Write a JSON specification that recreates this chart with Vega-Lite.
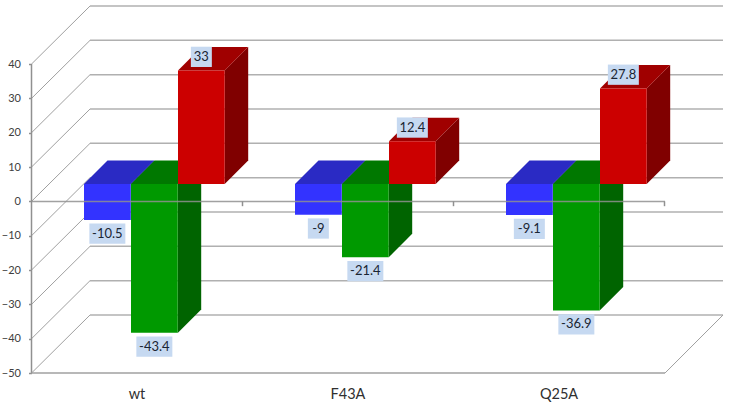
{
"$schema":"https://vega.github.io/schema/vega-lite/v6.json",
"width":729,"height":406,"padding":0,"autosize":{"type":"none"},"background":"white",
"config":{"view":{"stroke":null},"font":"Lato"},
"datasets":{
"bars":[
{"group":"wt","series":"S1","value":-10.5},{"group":"wt","series":"S2","value":-43.4},{"group":"wt","series":"S3","value":33},
{"group":"F43A","series":"S1","value":-9},{"group":"F43A","series":"S2","value":-21.4},{"group":"F43A","series":"S3","value":12.4},
{"group":"Q25A","series":"S1","value":-9.1},{"group":"Q25A","series":"S2","value":-36.9},{"group":"Q25A","series":"S3","value":27.8}],
"ticks":[{"v":-50},{"v":-40},{"v":-30},{"v":-20},{"v":-10},{"v":0},{"v":10},{"v":20},{"v":30},{"v":40}],
"groups":[{"group":"wt","i":0},{"group":"F43A","i":1},{"group":"Q25A","i":2}]
},
"encoding":{
"x":{"field":"px","type":"quantitative","scale":{"domain":[0,729],"nice":false,"zero":false},"axis":null},
"y":{"field":"vy","type":"quantitative","scale":{"domain":[-59.6,58.66],"nice":false,"zero":false},
"axis":{"title":null,"values":[-50,-40,-30,-20,-10,0,10,20,30,40],"offset":-31.5,"domain":false,"grid":false,"tickSize":3,"tickColor":"#909090","tickWidth":1.5,"labelColor":"#404040","labelFontSize":11,"labelFont":"Lato","labelPadding":8}}
},
"resolve":{"scale":{"color":"independent"}},
"layer":[
{"data":{"name":"ticks"},"transform":[{"calculate":"90","as":"px"},{"calculate":"723","as":"px2"},{"calculate":"datum.v+16.9","as":"vy"}],
"mark":{"type":"rule","color":"#b0b0b0","strokeWidth":1.5},"encoding":{"x2":{"field":"px2"},"y2":{"field":"vy"}}},
{"data":{"name":"ticks"},"transform":[{"calculate":"31.5","as":"px"},{"calculate":"90","as":"px2"},{"calculate":"datum.v","as":"vy"},{"calculate":"datum.v+16.9","as":"vy2"}],
"mark":{"type":"rule","color":"#a0a0a0","strokeWidth":1},"encoding":{"x2":{"field":"px2"},"y2":{"field":"vy2"}}},
{"data":{"values":[{"a":-50}]},"transform":[{"calculate":"31.5","as":"px"},{"calculate":"31.5","as":"px2"},{"calculate":"datum.a","as":"vy"},{"calculate":"40","as":"vy2"}],
"mark":{"type":"rule","color":"#909090","strokeWidth":1.5},"encoding":{"x2":{"field":"px2"},"y2":{"field":"vy2"}}},
{"data":{"values":[{"a":-50}]},"transform":[{"calculate":"31.5","as":"px"},{"calculate":"665","as":"px2"},{"calculate":"datum.a","as":"vy"}],
"mark":{"type":"rule","color":"#a0a0a0","strokeWidth":1.5},"encoding":{"x2":{"field":"px2"},"y2":{"field":"vy"}}},
{"data":{"values":[{"a":-50}]},"transform":[{"calculate":"665","as":"px"},{"calculate":"723","as":"px2"},{"calculate":"datum.a","as":"vy"},{"calculate":"datum.a+16.9","as":"vy2"}],
"mark":{"type":"rule","color":"#a0a0a0","strokeWidth":1},"encoding":{"x2":{"field":"px2"},"y2":{"field":"vy2"}}},
{"data":{"name":"bars"},"transform":[
{"calculate":"indexof(['wt','F43A','Q25A'],datum.group)","as":"gi"},
{"calculate":"indexof(['S1','S2','S3'],datum.series)","as":"si"},
{"calculate":"84+211*datum.gi+47*datum.si+46.7","as":"x1"},
{"calculate":"[0,1]","as":"t"},{"flatten":["t"]},
{"calculate":"datum.x1+datum.t*23.5","as":"px"},
{"calculate":"max(datum.value,0)+5.1+datum.t*6.845","as":"vy"},
{"calculate":"min(datum.value,0)+5.1+datum.t*6.845","as":"vy2"},
{"calculate":"datum.group+datum.series","as":"id"}],
"mark":{"type":"area","orient":"vertical"},
"encoding":{"y2":{"field":"vy2"},"detail":{"field":"id"},"color":{"field":"series","type":"nominal","legend":null,"scale":{"domain":["S1","S2","S3"],"range":["#2020a0","#006400","#800000"]}}}},
{"data":{"name":"bars"},"transform":[
{"calculate":"indexof(['wt','F43A','Q25A'],datum.group)","as":"gi"},
{"calculate":"indexof(['S1','S2','S3'],datum.series)","as":"si"},
{"calculate":"84+211*datum.gi+47*datum.si","as":"x0"},
{"calculate":"[0,1]","as":"t"},{"flatten":["t"]},
{"calculate":"datum.x0+datum.t*23.5","as":"px"},
{"calculate":"datum.x0+46.7+datum.t*23.5","as":"px2"},
{"calculate":"max(datum.value,0)+5.1+datum.t*6.845","as":"vy"},
{"calculate":"datum.group+datum.series","as":"id"}],
"mark":{"type":"area","orient":"horizontal"},
"encoding":{"x2":{"field":"px2"},"detail":{"field":"id"},"color":{"field":"series","type":"nominal","legend":null,"scale":{"domain":["S1","S2","S3"],"range":["#2a2ac4","#007800","#a00000"]}}}},
{"data":{"name":"bars"},"transform":[
{"calculate":"indexof(['wt','F43A','Q25A'],datum.group)","as":"gi"},
{"calculate":"indexof(['S1','S2','S3'],datum.series)","as":"si"},
{"calculate":"84+211*datum.gi+47*datum.si","as":"px"},
{"calculate":"datum.px+46.7","as":"px2"},
{"calculate":"max(datum.value,0)+5.1","as":"vy"},
{"calculate":"min(datum.value,0)+5.1","as":"vy2"}],
"mark":{"type":"rect"},
"encoding":{"x2":{"field":"px2"},"y2":{"field":"vy2"},"color":{"field":"series","type":"nominal","legend":null,"scale":{"domain":["S1","S2","S3"],"range":["#3333ff","#009900","#cc0000"]}}}},
{"data":{"values":[{"a":0}]},"transform":[{"calculate":"31.5","as":"px"},{"calculate":"665","as":"px2"},{"calculate":"datum.a","as":"vy"}],
"mark":{"type":"rule","color":"#909090","strokeWidth":1.5,"opacity":0.85},"encoding":{"x2":{"field":"px2"},"y2":{"field":"vy"}}},
{"data":{"name":"groups"},"transform":[{"calculate":"242.5+211*datum.i","as":"px"},{"calculate":"0","as":"vy"},{"calculate":"-1.4","as":"vy2"}],
"mark":{"type":"rule","color":"#909090","strokeWidth":1.5},"encoding":{"y2":{"field":"vy2"}}},
{"data":{"name":"bars"},"transform":[
{"calculate":"indexof(['wt','F43A','Q25A'],datum.group)","as":"gi"},
{"calculate":"indexof(['S1','S2','S3'],datum.series)","as":"si"},
{"calculate":"84+211*datum.gi+47*datum.si+23.35","as":"cx"},
{"calculate":"''+datum.value","as":"lab"},
{"calculate":"11+5*length(datum.lab)","as":"w"},
{"calculate":"datum.cx-datum.w/2","as":"px"},
{"calculate":"datum.cx+datum.w/2","as":"px2"},
{"calculate":"datum.value+5.1+(datum.value>0?4.0:-4.0)+2.95","as":"vy"},
{"calculate":"datum.value+5.1+(datum.value>0?4.0:-4.0)-2.95","as":"vy2"}],
"mark":{"type":"rect","color":"#c6d9f1"},
"encoding":{"x2":{"field":"px2"},"y2":{"field":"vy2"}}},
{"data":{"name":"bars"},"transform":[
{"calculate":"indexof(['wt','F43A','Q25A'],datum.group)","as":"gi"},
{"calculate":"indexof(['S1','S2','S3'],datum.series)","as":"si"},
{"calculate":"84+211*datum.gi+47*datum.si+23.35","as":"px"},
{"calculate":"''+datum.value","as":"lab"},
{"calculate":"datum.value+5.1+(datum.value>0?4.0:-4.0)","as":"vy"}],
"mark":{"type":"text","font":"Lato","fontSize":13,"color":"#1a2533","align":"center","baseline":"middle"},
"encoding":{"text":{"field":"lab","type":"nominal"}}},
{"data":{"name":"groups"},"transform":[{"calculate":"137+211*datum.i","as":"px"},{"calculate":"-56.3","as":"vy"}],
"mark":{"type":"text","font":"Lato","fontSize":14.5,"color":"#303030","align":"center","baseline":"middle"},
"encoding":{"text":{"field":"group","type":"nominal"}}}
]
}
